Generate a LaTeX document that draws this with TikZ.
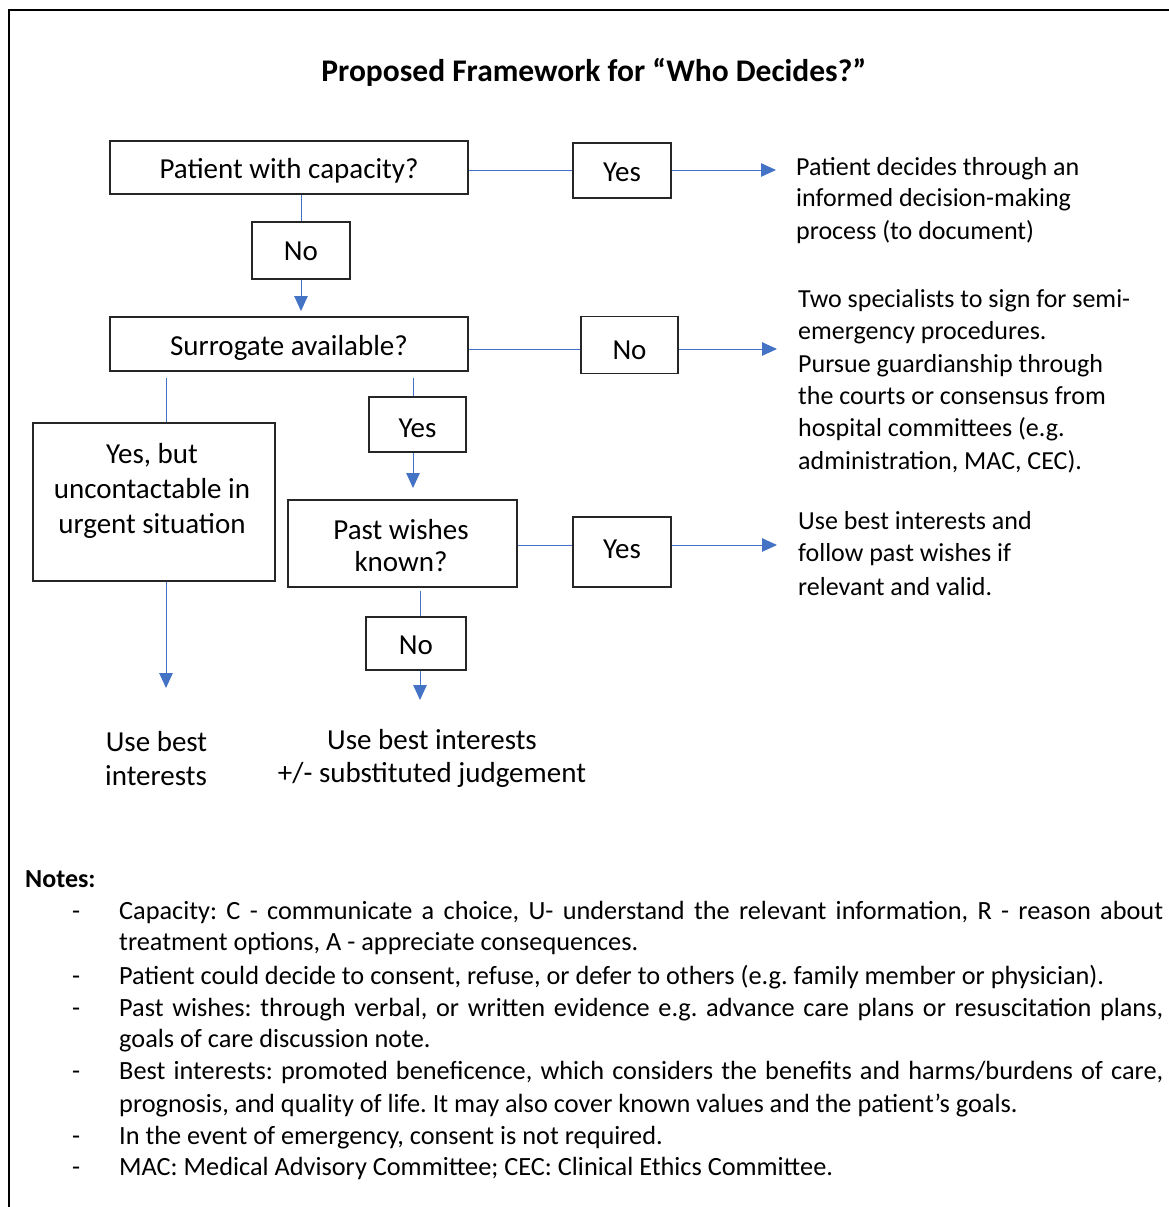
\documentclass[tikz,border=0pt]{standalone}
\usepackage{fontspec}
\setmainfont{Carlito}
\usetikzlibrary{arrows.meta}
\definecolor{ablue}{HTML}{4472C4}
\begin{document}
\frenchspacing
\begin{tikzpicture}[x=1pt,y=-1pt,
  box/.style={draw=black!85, line width=1.1pt, inner sep=0pt, font=\fontsize{29}{35}\selectfont, text depth=0pt},
  bl/.style={anchor=base, inner sep=0pt, font=\fontsize{29}{35}\selectfont},
  conn/.style={draw=ablue, line width=1pt},
  arr/.style={conn, -{Triangle[length=15pt,width=13.5pt]}},
  rt/.style={anchor=base west, inner sep=0pt, font=\fontsize{26}{32}\selectfont},
  nt/.style={anchor=base west, inner sep=0pt, font=\fontsize{26.3}{32}\selectfont},
]
\useasboundingbox (0,0) rectangle (1169,1207);
\draw[line width=2pt] (9,1207) -- (9,10) -- (1169,10);

\node[inner sep=0pt, font=\fontsize{31.5}{38}\selectfont\bfseries] (title) at (594,72) {Proposed Framework for “Who Decides?”};

% boxes
\node[box, minimum width=358, minimum height=53, text height=21.6pt] (pwc) at (289,167.5) {Patient with capacity?};
\node[box, minimum width=98, minimum height=55, text height=22pt] (yes1) at (622,170.5) {Yes};
\node[box, minimum width=98, minimum height=57, text height=20pt] (no1) at (301,250.5) {No};
\node[box, minimum width=358, minimum height=54, text height=23pt] (surr) at (289,344) {Surrogate available?};
\node[box, minimum width=97, minimum height=57, text height=29pt] (no2) at (629.5,344.7) {No};
\node[box, minimum width=242, minimum height=158] (ybut) at (154,502) {};
\node[bl] (ybut1) at (152,463.5) {Yes, but};
\node[bl] (ybut2) at (152,498) {uncontactable in};
\node[bl] (ybut3) at (152,533) {urgent situation};
\node[box, minimum width=97, minimum height=55, text height=26pt] (yes2) at (417.5,424.5) {Yes};
\node[box, minimum width=229, minimum height=87] (pw) at (402.5,543.5) {};
\node[bl] (pw1) at (401,539.3) {Past wishes};
\node[bl] (pw2) at (401,571.7) {known?};
\node[box, minimum width=98, minimum height=70, text height=12pt] (yes3) at (622,552) {Yes};
\node[box, minimum width=100, minimum height=53, text height=22pt] (no3) at (416,643.5) {No};

% end coordinates
\coordinate (e1) at (776,170);
\coordinate (e2) at (777,349);
\coordinate (e3) at (777,545);
\coordinate (e4) at (301,311);
\coordinate (e5) at (166,688);
\coordinate (e6) at (413,488);
\coordinate (e7) at (420,700);

% connectors
\draw[conn] (pwc.east |- e1) -- (yes1.west |- e1);
\draw[arr] (yes1.east |- e1) -- (e1);
\draw[conn] (no1.north |- pwc.south) -- (no1.north);
\draw[arr] (no1.south) -- (e4);
\draw[conn] (surr.east |- e2) -- (no2.west |- e2);
\draw[arr] (no2.east |- e2) -- (e2);
\draw[conn, shorten <=6pt] (surr.south -| e5) -- (ybut.north -| e5);
\draw[arr] (ybut.south -| e5) -- (e5);
\draw[conn, shorten <=6pt] (surr.south -| e6) -- (yes2.north -| e6);
\draw[arr] (yes2.south -| e6) -- (e6);
\draw[conn] (pw.east |- e3) -- (yes3.west |- e3);
\draw[arr] (yes3.east |- e3) -- (e3);
\draw[conn, shorten <=3pt] (pw.south -| e7) -- (no3.north -| e7);
\draw[arr] (no3.south -| e7) -- (e7);

% outcome texts
\node[bl] (out1a) at (156.5,751.5) {Use best};
\node[bl] (out1b) at (156,785.5) {interests};
\node[bl] (out2a) at (432,749.5) {Use best interests};
\node[bl] (out2b) at (432,782.5) {+/- substituted judgement};

% right texts
\node[rt] (r1a) at (796,175) {Patient decides through an};
\node[rt] (r1b) at (796,206) {informed decision-making};
\node[rt] (r1c) at (796,239) {process (to document)};
\node[rt] (r2a) at (798,307) {Two specialists to sign for semi-};
\node[rt] (r2b) at (798,339) {emergency procedures.};
\node[rt] (r2c) at (798,372) {Pursue guardianship through};
\node[rt] (r2d) at (798,404) {the courts or consensus from};
\node[rt] (r2e) at (798,436) {hospital committees (e.g.};
\node[rt] (r2f) at (798,469) {administration, MAC, CEC).};
\node[rt] (r3a) at (798,529) {Use best interests and};
\node[rt] (r3b) at (798,561) {follow past wishes if};
\node[rt] (r3c) at (798,595) {relevant and valid.};

% notes
\node[nt, font=\fontsize{26}{32}\selectfont\bfseries] (notes) at (25,887) {Notes:};
\node[nt] (d1) at (72,919) {-};
\node[nt] (d3) at (72,984) {-};
\node[nt] (d4) at (72,1016) {-};
\node[nt] (d6) at (72,1079) {-};
\node[nt] (d8) at (72,1144) {-};
\node[nt] (d9) at (72,1175) {-};
\node[nt] (n1) at (119,919) {\makebox[1044pt][s]{Capacity: C - communicate a choice, U- understand the relevant information, R - reason about}};
\node[nt] (n2) at (119,950) {treatment options, A - appreciate consequences.};
\node[nt] (n3) at (119,984) {Patient could decide to consent, refuse, or defer to others (e.g. family member or physician).};
\node[nt] (n4) at (119,1016) {\makebox[1044pt][s]{Past wishes: through verbal, or written evidence e.g. advance care plans or resuscitation plans,}};
\node[nt] (n5) at (119,1047) {goals of care discussion note.};
\node[nt] (n6) at (119,1079) {\makebox[1044pt][s]{Best interests: promoted beneficence, which considers the benefits and harms/burdens of care,}};
\node[nt] (n7) at (119,1112) {prognosis, and quality of life. It may also cover known values and the patient’s goals.};
\node[nt] (n8) at (119,1144) {In the event of emergency, consent is not required.};
\node[nt] (n9) at (119,1175) {MAC: Medical Advisory Committee; CEC: Clinical Ethics Committee.};
\end{tikzpicture}
\end{document}
